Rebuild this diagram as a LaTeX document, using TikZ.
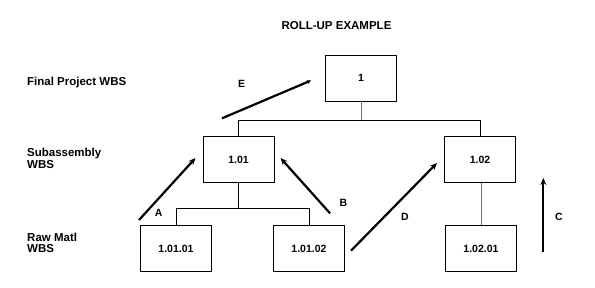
\documentclass[tikz,border=0pt]{standalone}
\usepackage{fontspec}
\setmainfont{Liberation Sans}
\usetikzlibrary{arrows.meta}
\begin{document}
\begin{tikzpicture}[x=1pt,y=-1pt,
  box/.style={draw=black,line width=0.9pt,minimum width=71pt,minimum height=46pt,inner sep=0pt,font=\fontsize{10.5}{12}\selectfont\bfseries},
  lvl/.style={anchor=west,align=left,inner sep=0pt,font=\fontsize{11.5}{11.5}\selectfont\bfseries},
  tree/.style={line width=0.9pt},
  treeg/.style={line width=0.9pt,draw=black!55},
  big/.style={line width=2.2pt,-{Stealth[length=7pt,width=6pt]}},
  small/.style={line width=2.2pt,-{Stealth[length=4pt,width=4pt]}},
  lbl/.style={font=\fontsize{10.5}{12}\selectfont\bfseries}]
\useasboundingbox[fill=white] (0,0) rectangle (595,287);
\node[font=\fontsize{11.5}{12}\selectfont\bfseries] (title) at (336.5,26) {ROLL-UP EXAMPLE};
\node[lvl] (l1) at (27,82.7) {Final Project WBS};
\node[lvl] (l2) at (27,158.5) {Subassembly\\WBS};
\node[lvl] (l3) at (27,243) {Raw Matl\\WBS};
\node[box] (b1) at (361,78) {1};
\node[box] (b101) at (238.5,159.7) {1.01};
\node[box] (b102) at (480,159.7) {1.02};
\node[box] (b10101) at (176,248.8) {1.01.01};
\node[box] (b10102) at (309,248.8) {1.01.02};
\node[box] (b10201) at (481,248.8) {1.02.01};
\coordinate (j1) at (0,120.3);
\coordinate (j2) at (0,208.3);
\draw[treeg] (b1.south) -- (b1.south |- j1);
\draw[tree] (b101.north) |- (b1.south |- j1) -| (b102.north);
\draw[tree] (b101.south) -- (b101.south |- j2);
\draw[tree] (b10101.north) |- (b101.south |- j2) -| (b10102.north);
\draw[treeg] (b102.south -| b10201.north) -- (b10201.north);
% roll-up arrows
\coordinate (a0) at (139,220); \coordinate (a1) at (195.5,158);
\coordinate (bb0) at (330,213.3); \coordinate (bb1) at (280.5,158);
\coordinate (d0) at (351,250.7); \coordinate (d1) at (437,163);
\coordinate (c0) at (543.3,252.3); \coordinate (c1) at (543.3,178);
\coordinate (e0) at (222,118.3); \coordinate (e1) at (311,80.5);
\draw[big] (a0) -- (a1);
\draw[big] (bb0) -- (bb1);
\draw[big] (d0) -- (d1);
\draw[big] (c0) -- (c1);
\draw[small] (e0) -- (e1);
\node[lbl] (la) at (158.7,213.3) {A};
\node[lbl] (lb) at (343.3,202.7) {B};
\node[lbl] (ld) at (405,217.3) {D};
\node[lbl] (lc) at (559,217) {C};
\node[lbl] (le) at (241.7,84.3) {E};
\end{tikzpicture}
\end{document}
